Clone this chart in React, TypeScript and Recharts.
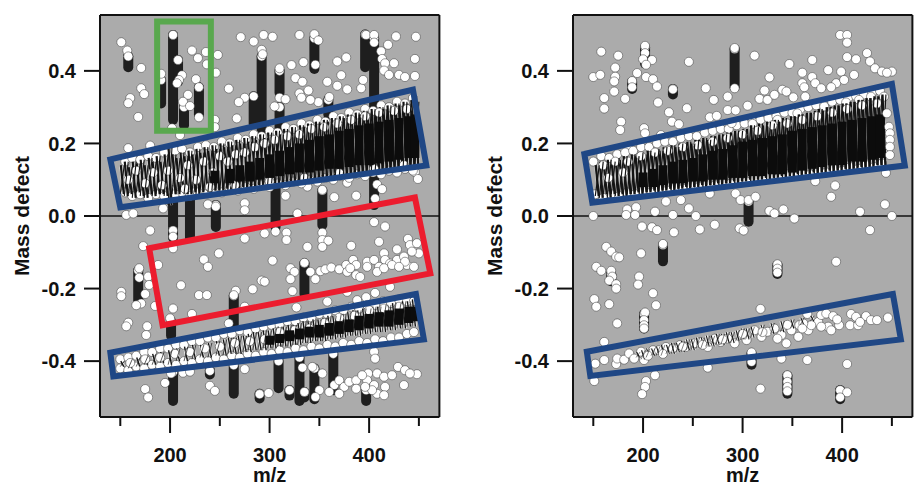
import React from 'react';
import { ScatterChart, Scatter, XAxis, YAxis, ZAxis, ReferenceLine, CartesianGrid } from 'recharts';

type Pair = number[];
type Span = number[];

const mzTicks = [150, 200, 250, 300, 350, 400, 450];
const defectTicks = [0.4, 0.2, 0, -0.2, -0.4];

// scattered ions, left panel, [m/z, mass defect]
const leftIons: Pair[] = [
  [151,.479],[157,.456],[158,.44],[171,.408],[171,.352],[174,.336],[160,.325],[158,.311],[168,.273],[203,.499],
  [208,.43],[222,.456],[228,.435],[236,.452],[248,.444],[237,.418],[246,.395],[212,.388],[209,.375],[207,.366],
  [226,.377],[229,.355],[218,.334],[213,.315],[220,.303],[229,.272],[191,.392],[259,.351],[271,.493],[284,.481],
  [294,.499],[303,.494],[292,.458],[293,.446],[322,.416],[334,.424],[330,.499],[345,.501],[349,.484],[368,.426],
  [377,.437],[372,.388],[358,.37],[368,.359],[378,.349],[392,.352],[397,.499],[405,.499],[405,.478],[419,.472],
  [427,.495],[447,.494],[412,.454],[413,.433],[425,.421],[446,.433],[416,.421],[415,.401],[420,.389],[430,.389],
  [436,.383],[446,.386],[326,.38],[333,.37],[339,.346],[330,.338],[332,.326],[349,.314],[360,.328],[341,.32],
  [310,.326],[316,.322],[305,.302],[275,.326],[269,.314],[267,.269],[245,.265],[245,.245],[210,.223],[202,.242],
  [158,.187],[180,.194],[446,.121],[449,.102],[408,.087],[413,.074],[406,.048],[387,.056],[365,.052],[353,.072],
  [316,.056],[338,.081],[378,.092],[275,.035],[275,.016],[238,.032],[246,.026],[193,.021],[156,.003],[163,.007],
  [328,.007],[310,.407],[346,.417],[394,.375],
  [180,-.04],[173,-.083],[203,-.057],[203,-.089],[234,-.12],[238,-.14],[249,-.103],[275,-.062],[295,-.048],[306,-.043],
  [317,-.046],[317,-.066],[353,-.046],[353,-.066],[359,-.068],[353,-.085],[338,-.085],[382,-.082],[405,-.017],[416,-.029],
  [410,-.071],[439,-.063],[441,-.08],[448,-.075],[428,-.092],[303,-.123],[335,-.129],[321,-.144],[325,-.154],[321,-.174],
  [341,-.154],[351,-.152],[356,-.147],[362,-.142],[346,-.174],[292,-.178],[295,-.181],[283,-.202],[266,-.206],[264,-.218],
  [211,-.191],[229,-.218],[237,-.218],[188,-.135],[169,-.144],[169,-.17],[178,-.167],[179,-.19],[175,-.215],[171,-.241],
  [166,-.246],[151,-.209],[151,-.221],[203,-.255],[200,-.282],[222,-.27],[177,-.304],[176,-.328],[158,-.294],[156,-.304],
  [185,-.248],[275,-.25],[323,-.207],[327,-.252],[358,-.236],[378,-.209],[388,-.232],[397,-.224],[406,-.212],[421,-.195],
  [259,-.296],[405,-.374],[406,-.393],[275,-.422],[264,-.411],[240,-.427],[213,-.432],[220,-.429],[201,-.434],[195,-.46],
  [240,-.468],[245,-.482],[175,-.477],[178,-.5],[290,-.491],[299,-.488],[320,-.48],[335,-.485],[333,-.418],[343,-.416],
  [353,-.434],[429,-.416],[435,-.466],[436,-.425],[448,-.436],[441,-.434],
  [370,-.147],[377,-.135],[384,-.121],[387,-.135],[378,-.154],[387,-.163],[381,-.144],[398,-.126],[405,-.121],[410,-.14],
  [415,-.103],[416,-.121],[421,-.131],[428,-.121],[435,-.112],[438,-.135],[445,-.14],[450,-.103],[443,-.098],[436,-.126],
  [408,-.154],[415,-.144],[423,-.135],[430,-.14],[398,-.14],[391,-.168],
  [365,-.466],[370,-.453],[375,-.471],[380,-.457],[387,-.453],[387,-.476],[370,-.49],[360,-.485],[350,-.48],[346,-.499],
  [399,-.434],[408,-.434],[415,-.443],[423,-.439],[398,-.453],[405,-.466],[416,-.471],[408,-.49],[415,-.494],[403,-.48],
  [396,-.471],[393,-.439],
];

// repeated-scan ions that pile up into columns, [m/z, top, bottom]
const leftColumns: Span[] = [
  [158,.44,.41],[191,.375,.31],[203,.499,.265],[208,.43,.37],[214,.3,.25],[229,.355,.28],[292,.44,.24],[284,.33,.255],
  [310,.4,.34],[310,.3,.24],[345,.49,.405],[396,.5,.41],[405,.49,.03],[359,.32,.28],[203,.07,-.03],[203,-.04,-.06],
  [220,.07,-.06],[246,.03,-.03],[306,.1,-.03],[353,.07,-.025],[168,-.15,-.232],[264,-.22,-.3],[335,-.13,-.215],
  [201,-.29,-.33],[203,-.43,-.51],[264,-.41,-.49],[309,-.4,-.475],[330,-.39,-.51],[345,-.42,-.505],[364,-.38,-.48],
  [397,-.48,-.51],[240,-.425,-.437],[290,-.49,-.503],[320,-.48,-.495],[335,-.485,-.5],
];

const leftUpperEdge: Pair[] = [
  [155,.15],[162,.16],[170,.155],[178,.165],[186,.16],[194,.175],[205,.18],[212,.185],[220,.175],[228,.19],[236,.195],[244,.19],
  [252,.205],[260,.2],[268,.215],[276,.21],[284,.225],[292,.22],[300,.235],[308,.23],[316,.245],[324,.24],[332,.255],[340,.25],
  [348,.265],[356,.26],[364,.275],[372,.27],[380,.285],[388,.28],[396,.295],[404,.29],[412,.305],[420,.3],[428,.315],[436,.31],[444,.325],
  [155,.065],[162,.055],[170,.06],[178,.05],[186,.06],[194,.055],[205,.06],[212,.065],[220,.055],[228,.065],[236,.06],[244,.07],
  [252,.065],[260,.075],[268,.07],[276,.08],[284,.075],[292,.085],[300,.08],[308,.09],[316,.085],[324,.095],[332,.09],[340,.1],
  [348,.095],[356,.105],[364,.1],[372,.11],[380,.105],[388,.115],[396,.11],[404,.12],[412,.115],[420,.125],[428,.12],[436,.13],[444,.125],
];
const leftUpperSpeckle: Pair[] = [
  [158,.1],[166,.125],[175,.09],[183,.12],[192,.085],[198,.125],[210,.105],[218,.14],[226,.1],[234,.15],[243,.12],[250,.165],[258,.15],
  [266,.17],[275,.175],[285,.19],[295,.2],[305,.21],[318,.22],[330,.225],[342,.24],[355,.245],[368,.255],[382,.265],[396,.275],[410,.285],
  [425,.29],[438,.295],[215,.075],[240,.08],[265,.085],[300,.095],[335,.105],[370,.118],[405,.13],[435,.14],
];
const leftUpperHatch: Span[] = [
  [152,.14,.06],[156,.15,.055],[160,.135,.06],[164,.15,.05],[168,.145,.065],[172,.155,.055],[176,.14,.05],[180,.16,.06],[184,.15,.055],
  [188,.165,.06],[192,.15,.06],[196,.17,.055],[200,.19,.03],[204,.17,.06],[208,.16,.06],[212,.175,.065],[216,.165,.06],[220,.18,.06],
  [224,.17,.065],[228,.185,.06],[232,.175,.065],[236,.19,.07],[240,.18,.065],[244,.195,.07],[248,.185,.07],[252,.2,.07],[256,.19,.075],
  [260,.205,.07],[264,.195,.075],[268,.21,.075],[272,.2,.08],[276,.215,.075],[280,.205,.08],[284,.22,.08],[288,.21,.085],[292,.225,.08],
  [296,.215,.085],[300,.23,.085],[304,.22,.09],[308,.235,.085],[312,.225,.09],[316,.24,.09],[320,.23,.095],[324,.245,.09],[328,.235,.095],
  [332,.25,.095],[336,.245,.1],[340,.255,.095],[344,.25,.1],[348,.26,.1],[352,.255,.105],[356,.265,.1],[360,.26,.105],[364,.27,.105],
  [368,.265,.11],[372,.275,.105],[376,.27,.11],[380,.28,.11],[384,.275,.115],[388,.285,.11],[392,.28,.115],[396,.29,.115],[400,.285,.12],
  [404,.295,.115],[408,.29,.12],[412,.3,.12],[416,.295,.125],[420,.305,.12],[424,.3,.125],[428,.31,.125],[432,.305,.13],[436,.315,.125],
  [440,.31,.13],[444,.32,.13],[448,.315,.13],
];
const leftUpperCore: Span[] = [
  [245,.125,.09],[260,.13,.09],[270,.14,.095],[280,.15,.095],[290,.16,.1],[300,.17,.105],[310,.18,.11],[320,.19,.115],
  [330,.2,.12],[340,.21,.12],[350,.22,.125],[360,.225,.13],[370,.235,.13],[380,.24,.135],[390,.25,.14],[400,.255,.14],[410,.26,.145],
  [420,.265,.15],[430,.27,.155],[440,.275,.16],[446,.28,.16],
];

const leftLowerEdge: Pair[] = [
  [150,-.395],[158,-.39],[166,-.385],[174,-.375],[182,-.375],[190,-.365],[198,-.365],[206,-.355],[214,-.355],[222,-.345],[230,-.345],
  [238,-.335],[246,-.335],[254,-.325],[262,-.325],[270,-.315],[278,-.32],[286,-.31],[294,-.305],[302,-.3],[310,-.3],[318,-.29],[326,-.29],
  [334,-.28],[342,-.28],[350,-.27],[358,-.27],[366,-.26],[374,-.26],[382,-.25],[390,-.255],[398,-.245],[406,-.245],[414,-.235],[422,-.24],
  [430,-.23],[438,-.235],[445,-.235],
  [150,-.42],[158,-.425],[166,-.415],[174,-.42],[182,-.41],[190,-.415],[198,-.405],[206,-.41],[214,-.4],[222,-.405],[230,-.395],[238,-.4],
  [246,-.39],[254,-.395],[262,-.385],[270,-.39],[278,-.38],[286,-.385],[294,-.375],[302,-.38],[310,-.37],[318,-.375],[326,-.365],[334,-.37],
  [342,-.36],[350,-.365],[358,-.355],[366,-.36],[374,-.35],[382,-.355],[390,-.345],[398,-.35],[406,-.34],[414,-.345],[422,-.335],[430,-.335],
  [438,-.325],[445,-.32],
];
const leftLowerSpeckle: Pair[] = [
  [160,-.405],[175,-.395],[190,-.39],[205,-.38],[220,-.375],[235,-.365],[250,-.36],[265,-.35],[280,-.345],[295,-.34],[310,-.32],[325,-.315],
  [340,-.31],[355,-.295],[370,-.28],[385,-.275],[400,-.26],[415,-.255],[430,-.25],
];
const leftLowerHatch: Span[] = [
  [152,-.4,-.415],[160,-.395,-.42],[168,-.39,-.415],[176,-.385,-.41],[184,-.38,-.41],[192,-.375,-.405],[200,-.37,-.41],[208,-.365,-.4],
  [216,-.36,-.4],[224,-.355,-.395],[232,-.355,-.39],[240,-.35,-.39],[248,-.345,-.385],[255,-.34,-.385],[260,-.335,-.38],[265,-.335,-.38],
  [270,-.33,-.38],[275,-.33,-.375],[280,-.325,-.375],[285,-.32,-.37],[290,-.32,-.37],[295,-.315,-.37],[300,-.315,-.365],[305,-.31,-.365],
  [310,-.305,-.36],[315,-.305,-.36],[320,-.3,-.36],[325,-.3,-.355],[330,-.295,-.355],[335,-.29,-.35],[340,-.29,-.35],[345,-.285,-.345],
  [350,-.285,-.345],[355,-.28,-.345],[360,-.275,-.34],[365,-.275,-.34],[370,-.27,-.335],[375,-.27,-.335],[380,-.265,-.33],[385,-.26,-.33],
  [390,-.26,-.33],[395,-.255,-.325],[400,-.255,-.325],[405,-.25,-.32],[410,-.25,-.32],[415,-.245,-.32],[420,-.245,-.315],[425,-.24,-.315],
  [430,-.24,-.31],[435,-.235,-.31],[440,-.235,-.305],[445,-.23,-.305],
];
const leftLowerCore: Span[] = [
  [300,-.33,-.355],[310,-.325,-.35],[320,-.315,-.345],[330,-.31,-.34],[340,-.305,-.335],[350,-.3,-.335],[360,-.295,-.33],
  [370,-.29,-.325],[380,-.285,-.32],[390,-.275,-.315],[400,-.27,-.31],[410,-.265,-.305],[420,-.26,-.305],[430,-.255,-.3],[440,-.25,-.295],[446,-.25,-.29],
];

// right panel
const rightIons: Pair[] = [
  [158,.453],[175,.442],[202,.469],[202,.449],[200,.432],[209,.43],[203,.417],[172,.409],[172,.384],[171,.371],[150,.383],[157,.389],
  [194,.394],[203,.383],[210,.377],[214,.357],[189,.372],[189,.355],[171,.343],[161,.325],[182,.323],[161,.296],[215,.313],[230,.349],
  [226,.286],[229,.26],[236,.253],[244,.297],[246,.425],[263,.352],[271,.32],[285,.329],[267,.272],[274,.276],[285,.292],[293,.291],
  [305,.304],[312,.442],[292,.463],[292,.352],[327,.382],[322,.346],[317,.323],[325,.32],[332,.334],[340,.348],[344,.343],[351,.327],
  [347,.419],[370,.43],[360,.395],[360,.366],[362,.355],[370,.383],[373,.366],[379,.352],[363,.329],[386,.402],[399,.398],[398,.499],
  [405,.499],[405,.478],[405,.438],[414,.432],[425,.449],[428,.426],[433,.407],[440,.398],[450,.398],[445,.395],[412,.389],[394,.366],
  [402,.375],[389,.355],[178,.26],[177,.237],[201,.242],[202,.228],[218,.223],[185,.187],[444,.119],[393,.084],[389,.053],[373,.096],
  [267,.062],[293,.062],[298,.044],[306,.044],[313,.053],[223,.04],[238,.044],[246,.021],[184,.018],[193,.024],[192,.003],[183,.003],
  [150,0],[212,.012],[230,.003],[253,0],[327,.014],[332,.007],[341,.018],[352,-.007],[418,.012],[443,.032],[450,0],
  [199,-.029],[209,-.031],[214,-.039],[231,-.045],[257,-.037],[272,-.024],[297,-.034],[301,-.04],[428,-.039],[198,-.103],[163,-.085],
  [168,-.098],[173,-.112],[176,-.114],[153,-.14],[158,-.151],[168,-.151],[169,-.167],[166,-.178],[173,-.188],[173,-.2],[196,-.167],
  [195,-.189],[210,-.213],[213,-.246],[151,-.229],[153,-.25],[166,-.243],[202,-.266],[201,-.287],[201,-.301],[201,-.31],[174,-.296],
  [161,-.347],[318,-.256],[394,-.126],[335,-.133],[335,-.145],[335,-.156],[220,-.077],
  [151,-.455],[212,-.439],[203,-.455],[202,-.471],[199,-.491],[265,-.418],[309,-.376],[309,-.402],[339,-.393],[365,-.397],[405,-.408],
  [345,-.439],[345,-.457],[345,-.471],[345,-.483],[318,-.476],[398,-.48],[405,-.486],[398,-.5],
];
const rightColumns: Span[] = [
  [292,.46,.355],[202,.465,.42],[189,.37,.35],[220,-.08,-.125],[306,.04,-.016],[345,-.44,-.49],[335,-.135,-.16],[201,-.27,-.31],
  [398,-.48,-.505],[309,-.38,-.41],[168,-.16,-.18],[230,.35,.335],
];

const rightUpperEdge: Pair[] = [
  [150,.15],[158,.165],[166,.16],[174,.17],[182,.175],[190,.18],[198,.19],[206,.19],[214,.2],[222,.205],[230,.205],[238,.215],[246,.22],
  [254,.22],[262,.23],[270,.235],[278,.24],[286,.24],[294,.25],[302,.255],[310,.26],[318,.265],[326,.27],[334,.275],[342,.285],[350,.285],
  [358,.295],[366,.3],[374,.305],[382,.305],[390,.315],[398,.32],[406,.325],[414,.33],[422,.335],[430,.34],[438,.345],
  [152,.06],[160,.05],[168,.06],[176,.055],[184,.065],[192,.06],[200,.07],[208,.065],[216,.075],[224,.07],[232,.08],[240,.075],[248,.085],
  [256,.08],[264,.09],[272,.085],[280,.095],[288,.09],[296,.1],[304,.095],[312,.105],[320,.1],[328,.11],[336,.105],[344,.115],[352,.11],
  [360,.12],[368,.115],[376,.125],[384,.12],[392,.13],[400,.125],[408,.135],[416,.13],[424,.14],[432,.135],[440,.145],
  [310,.254],[289,.256],[335,.265],[355,.283],[382,.302],[404,.313],[417,.32],[429,.329],[442,.329],
];
const rightUpperSpeckle: Pair[] = [
  [160,.14],[172,.15],[185,.15],[198,.165],[212,.175],[225,.18],[240,.19],[255,.195],[270,.205],[285,.215],[300,.225],[315,.235],[330,.25],
  [345,.255],[360,.265],[375,.275],[390,.285],[405,.295],[420,.305],[435,.31],[165,.105],[180,.12],
];
const rightStack: Pair[] = [[445,.283],[447,.246],[448,.228],[448,.21],[448,.191],[448,.168]];
const rightUpperHatch: Span[] = [
  [154,.14,.055],[158,.15,.05],[162,.145,.06],[166,.155,.05],[170,.15,.06],[174,.16,.055],[178,.155,.06],[182,.165,.055],[186,.16,.06],
  [190,.17,.06],[194,.165,.065],[198,.175,.06],[202,.17,.065],[206,.18,.065],[210,.175,.07],[214,.185,.065],[218,.18,.07],[222,.19,.07],
  [226,.19,.075],[230,.195,.07],[234,.19,.075],[238,.2,.075],[242,.2,.08],[246,.205,.075],[250,.2,.08],[254,.21,.08],[258,.21,.085],
  [262,.215,.08],[266,.21,.085],[270,.22,.085],[274,.22,.09],[278,.225,.085],[282,.225,.09],[286,.23,.09],[290,.23,.095],[294,.235,.09],
  [298,.235,.095],[302,.24,.095],[306,.24,.1],[310,.25,.095],[314,.245,.1],[318,.255,.1],[322,.25,.105],[326,.26,.1],[330,.255,.105],
  [334,.265,.105],[338,.26,.11],[342,.27,.105],[346,.265,.11],[350,.275,.11],[354,.275,.115],[358,.28,.11],[362,.28,.115],[366,.285,.115],
  [370,.285,.12],[374,.29,.115],[378,.295,.12],[382,.29,.12],[386,.3,.125],[390,.3,.12],[394,.305,.125],[398,.305,.125],[402,.31,.13],
  [406,.31,.125],[410,.315,.13],[414,.315,.13],[418,.32,.135],[422,.32,.13],[426,.325,.135],[430,.325,.135],[434,.33,.14],[438,.33,.14],[442,.335,.14],
];
const rightUpperCore: Span[] = [
  [200,.12,.08],[210,.13,.08],[220,.14,.085],[230,.15,.09],[240,.155,.09],[250,.16,.095],[260,.17,.095],
  [270,.18,.1],[280,.185,.1],[290,.195,.105],[300,.205,.105],[310,.21,.11],[320,.215,.11],[330,.22,.115],[340,.225,.115],[350,.235,.12],
  [360,.24,.125],[370,.245,.13],[380,.25,.135],[390,.255,.14],[400,.26,.14],[410,.265,.15],[420,.27,.15],[430,.275,.155],[438,.28,.16],
];

const rightLowerEdge: Pair[] = [
  [152,-.407],[161,-.397],[173,-.408],[174,-.393],[181,-.396],[186,-.379],[191,-.393],[198,-.374],[201,-.397],[210,-.37],[216,-.37],[223,-.361],
  [230,-.365],[237,-.356],[243,-.361],[252,-.351],[258,-.347],[265,-.361],[272,-.338],[278,-.347],[285,-.338],[292,-.351],[299,-.328],[304,-.342],
  [312,-.315],[319,-.333],[325,-.319],[332,-.31],[339,-.328],[344,-.351],[335,-.338],[349,-.315],[357,-.301],[356,-.333],[366,-.315],[365,-.27],
  [376,-.292],[379,-.273],[384,-.269],[391,-.276],[386,-.305],[389,-.315],[397,-.301],[408,-.301],[409,-.27],[414,-.278],[416,-.301],[424,-.276],
  [429,-.287],[435,-.287],[446,-.28],[418,-.292],[369,-.301],[361,-.296],[379,-.305],
];
const rightLowerSpeckle: Pair[] = [
  [205,-.385],[220,-.38],[240,-.36],[260,-.355],[280,-.34],[300,-.325],[320,-.32],[345,-.3],[360,-.31],[395,-.285],
];
const rightLowerHatch: Span[] = [
  [195,-.375,-.39],[200,-.37,-.395],[205,-.365,-.39],[210,-.365,-.385],[215,-.36,-.385],[220,-.355,-.385],[225,-.355,-.38],[230,-.35,-.38],
  [235,-.35,-.375],[240,-.345,-.375],[245,-.34,-.37],[250,-.34,-.37],[255,-.335,-.365],[260,-.335,-.365],[265,-.33,-.36],[270,-.33,-.36],
  [275,-.325,-.355],[280,-.325,-.355],[285,-.32,-.35],[290,-.32,-.35],[295,-.315,-.345],[300,-.31,-.34],[305,-.31,-.34],[310,-.305,-.335],
  [320,-.3,-.33],[330,-.295,-.325],[340,-.29,-.32],[350,-.285,-.31],[360,-.28,-.3],[370,-.275,-.29],
];

// hand-drawn boxes on the figure, in data units
const leftGreenBox: Pair[] = [[187,.536],[241,.536],[241,.235],[187,.235]];
const leftUpperBox: Pair[] = [[140,.156],[444,.348],[457.5,.139],[150,.024]];
const leftRedBox: Pair[] = [[179,-.089],[446,.051],[461.5,-.158],[192.5,-.301]];
const leftLowerBox: Pair[] = [[140,-.377],[447,-.215],[455,-.34],[143,-.442]];
const rightUpperBox: Pair[] = [[141,.171],[450,.364],[463,.139],[149,.037]];
const rightLowerBox: Pair[] = [[143.5,-.374],[451,-.215],[459,-.34],[147,-.441]];

const FONT = '"Liberation Sans", Arial, sans-serif';
const INK = '#111';
const PLOT_BG = '#ababab';
const BLUE = '#1f4785';
const RED = '#ec1c2e';
const GREEN = '#59a84e';
const X_DOMAIN = [129.6, 470.6];
const Y_DOMAIN = [-0.554, 0.554];

const pts = (rows: number[][]) => rows.map(r => ({ x: r[0], y: r[1] }));
const noDot = () => <g />;

const XTick = ({ x, y, payload }: any) => {
  const major = payload.value % 100 === 0;
  return (
    <g>
      <line x1={x} x2={x} y1={y} y2={y + (major ? 16 : 9)} stroke={INK} strokeWidth={2} />
      {major && (
        <text x={x} y={y + 45} textAnchor="middle" fontFamily={FONT} fontWeight="bold" fontSize={20} fill={INK}>
          {payload.value}
        </text>
      )}
    </g>
  );
};

const spanLines = (rows: Span[], key: string, color: string, width: number, cap: 'butt' | 'round', lean = 0) =>
  rows.map((r, i) => (
    <Scatter
      key={`${key}-${i}`}
      data={[{ x: r[0] - lean, y: r[1] }, { x: r[0] + lean, y: r[2] }]}
      line={{ stroke: color, strokeWidth: width, strokeLinecap: cap }}
      shape={noDot}
      isAnimationActive={false}
    />
  ));

const box = (corners: Pair[], color: string, width: number, key: string) => (
  <Scatter
    key={key}
    data={pts([...corners, corners[0], corners[1]])}
    line={{ stroke: color, strokeWidth: width, strokeLinejoin: 'miter' }}
    shape={noDot}
    isAnimationActive={false}
  />
);

const ions = (rows: Pair[], key: string) => (
  <Scatter key={key} data={pts(rows)} fill="#fff" stroke="#333" strokeWidth={0.5} isAnimationActive={false} />
);

const Panel = ({ left, children }: { left: number; children: React.ReactNode }) => (
  <div style={{ position: 'absolute', left, top: 0 }}>
    <ScatterChart width={460.4} height={485} margin={{ top: 0, right: 0, bottom: 0, left: 0 }}>
      <CartesianGrid fill={PLOT_BG} stroke="none" />
      <ZAxis range={[85, 85]} />
      <XAxis
        type="number"
        dataKey="x"
        domain={X_DOMAIN}
        ticks={mzTicks}
        height={68}
        tickLine={false}
        tick={<XTick />}
        tickSize={0}
        tickMargin={0}
        interval={0}
        axisLine={{ stroke: INK, strokeWidth: 2 }}
        label={{ value: 'm/z', position: 'insideBottom', offset: 3, style: { fontFamily: FONT, fontWeight: 'bold', fontSize: 20, fill: INK } }}
      />
      <XAxis
        xAxisId="top"
        orientation="top"
        type="number"
        dataKey="x"
        domain={X_DOMAIN}
        ticks={mzTicks}
        height={15}
        tick={false}
        tickSize={4}
        interval={0}
        tickLine={{ stroke: INK, strokeWidth: 2 }}
        axisLine={{ stroke: INK, strokeWidth: 2 }}
      />
      <YAxis
        type="number"
        dataKey="y"
        domain={Y_DOMAIN}
        ticks={defectTicks}
        width={100}
        interval={0}
        tickSize={16}
        tickMargin={8}
        tickFormatter={(v: number) => v.toFixed(1)}
        tick={{ fontFamily: FONT, fontWeight: 'bold', fontSize: 20, fill: INK }}
        tickLine={{ stroke: INK, strokeWidth: 2 }}
        axisLine={{ stroke: INK, strokeWidth: 2 }}
        label={{ value: 'Mass defect', angle: -90, position: 'insideLeft', offset: 22, style: { textAnchor: 'middle', fontFamily: FONT, fontWeight: 'bold', fontSize: 21, fill: INK } }}
      />
      <YAxis
        yAxisId="right"
        orientation="right"
        type="number"
        dataKey="y"
        domain={Y_DOMAIN}
        ticks={defectTicks}
        width={21}
        interval={0}
        tick={false}
        tickSize={15}
        tickLine={{ stroke: INK, strokeWidth: 2 }}
        axisLine={{ stroke: INK, strokeWidth: 2 }}
      />
      <ReferenceLine y={0} stroke={INK} strokeWidth={1.5} />
      {children}
    </ScatterChart>
  </div>
);

const band = (key: string, hatch: Span[], edge: Pair[], speckle: Pair[], core: Span[], hatchWidth: number) => [
  ...spanLines(hatch, `${key}-w`, '#f4f4f4', 3, 'butt', 1.5),
  ions(edge, `${key}-edge`),
  ...spanLines(hatch, `${key}-h`, '#141414', hatchWidth, 'butt', 1.5),
  ions(speckle, `${key}-sp`),
  ...spanLines(hatch, `${key}-x`, '#141414', hatchWidth * 0.5, 'butt', -2),
  ...spanLines(core, `${key}-c`, '#0c0c0c', 9, 'butt'),
];

export default function App() {
  return (
    <div style={{ position: 'absolute', left: 0, top: 0, width: 920, height: 485 }}>
      <Panel left={0}>
        {[
          ...spanLines(leftColumns, 'col', '#1e1e1e', 10, 'round'),
          ions(leftColumns.map(c => [c[0], c[1]]), 'tops'),
          ions(leftIons, 'ions'),
          ...band('lu', leftUpperHatch, leftUpperEdge, leftUpperSpeckle, leftUpperCore, 2.2),
          ...band('ll', leftLowerHatch, leftLowerEdge, leftLowerSpeckle, leftLowerCore, 1.4),
          box(leftGreenBox, GREEN, 6, 'green'),
          box(leftUpperBox, BLUE, 6, 'blue-u'),
          box(leftRedBox, RED, 6, 'red'),
          box(leftLowerBox, BLUE, 6, 'blue-l'),
        ]}
      </Panel>
      <Panel left={473.3}>
        {[
          ...spanLines(rightColumns, 'col', '#1e1e1e', 10, 'round'),
          ions(rightColumns.map(c => [c[0], c[1]]), 'tops'),
          ions(rightIons, 'ions'),
          ...band('ru', rightUpperHatch, rightUpperEdge, rightUpperSpeckle, rightUpperCore, 2.4),
          ions(rightStack, 'stack'),
          ...band('rl', rightLowerHatch, rightLowerEdge, rightLowerSpeckle, [], 1.1),
          box(rightUpperBox, BLUE, 6, 'blue-u'),
          box(rightLowerBox, BLUE, 6, 'blue-l'),
        ]}
      </Panel>
    </div>
  );
}
